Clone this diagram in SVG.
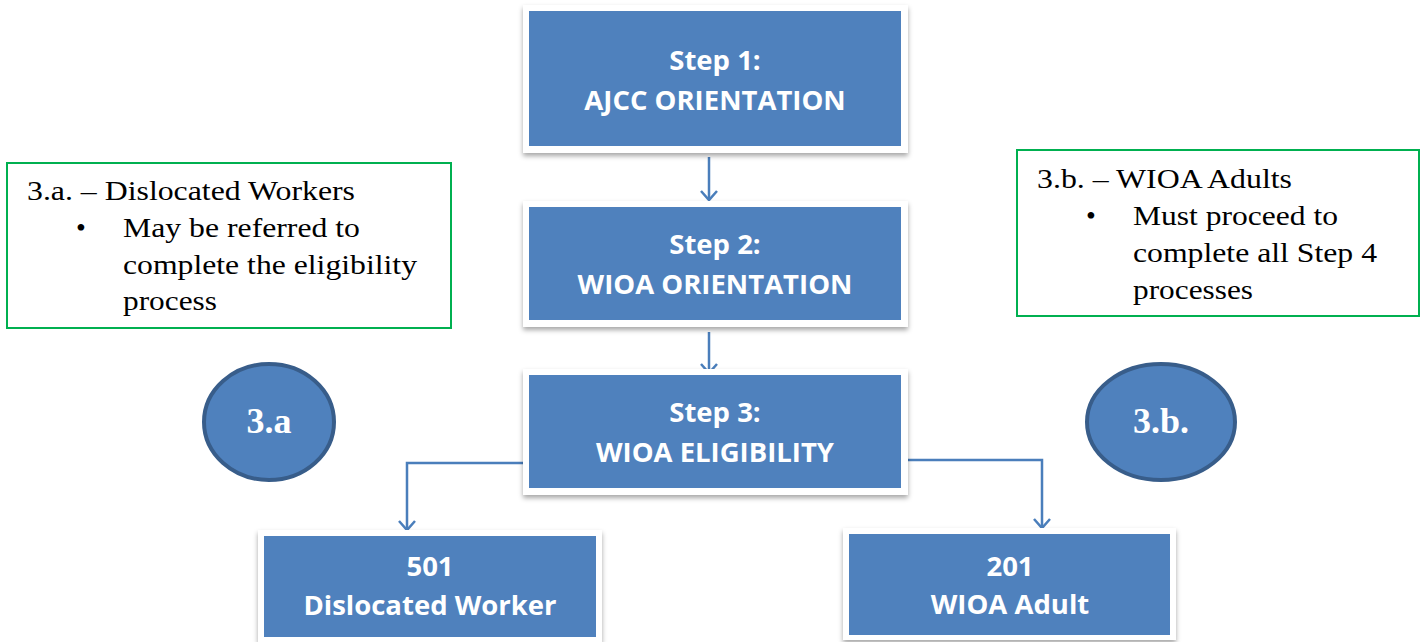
<svg xmlns="http://www.w3.org/2000/svg" width="1424" height="642" viewBox="0 0 1424 642">
<defs>
<filter id="sh" x="-10%" y="-10%" width="120%" height="130%">
<feDropShadow dx="0" dy="3" stdDeviation="2.5" flood-color="#000" flood-opacity="0.35"/>
</filter>
<marker id="arr" markerWidth="20" markerHeight="20" refX="10" refY="10" orient="auto" markerUnits="userSpaceOnUse">
<path d="M1,2 L10,10 L1,18" fill="none" stroke="#4A7EBB" stroke-width="2.5"/>
</marker>
<style>
.frame{fill:#fff;filter:url(#sh)}
.box{fill:#4F81BD}
.bt{font-family:"Open Sans","Liberation Sans",sans-serif;font-weight:bold;font-size:27.5px;fill:#fff;text-anchor:middle}
.note{fill:#fff;stroke:#00B050;stroke-width:2}
.nt{font-family:"Liberation Serif","Times New Roman",serif;font-size:28px;fill:#000}
.ell{fill:#4F81BD;stroke:#385D8A;stroke-width:4}
.et{font-family:"Liberation Serif","Times New Roman",serif;font-weight:bold;font-size:36px;fill:#fff;text-anchor:middle}
.conn{fill:none;stroke:#4A7EBB;stroke-width:2.5}
</style>
</defs>
<rect width="1424" height="642" fill="#fff"/>
<g id="connectors">
<path class="conn" d="M709,157 V200" marker-end="url(#arr)"/>
<path class="conn" d="M709,332 V373" marker-end="url(#arr)"/>
<path class="conn" d="M550,463 H407 V530" marker-end="url(#arr)"/>
<path class="conn" d="M853,460 H1042 V528" marker-end="url(#arr)"/>
</g>
<g id="step1">
<rect class="frame" x="523" y="5" width="385" height="148"/>
<rect class="box" x="529" y="11" width="372" height="135"/>
<text class="bt" x="715" y="70">Step 1:</text>
<text class="bt" x="715" y="110">AJCC ORIENTATION</text>
</g>
<g id="step2">
<rect class="frame" x="523" y="201" width="385" height="126"/>
<rect class="box" x="529" y="207" width="372" height="113"/>
<text class="bt" x="715" y="254">Step 2:</text>
<text class="bt" x="715" y="294">WIOA ORIENTATION</text>
</g>
<g id="step3">
<rect class="frame" x="523" y="369" width="385" height="126"/>
<rect class="box" x="529" y="375" width="372" height="113"/>
<text class="bt" x="715" y="422">Step 3:</text>
<text class="bt" x="715" y="462">WIOA ELIGIBILITY</text>
</g>
<g id="n501">
<rect class="frame" x="258" y="530" width="344" height="112"/>
<rect class="box" x="264" y="536" width="332" height="101"/>
<text class="bt" x="430" y="576">501</text>
<text class="bt" x="430" y="615">Dislocated Worker</text>
</g>
<g id="n201">
<rect class="frame" x="843" y="528" width="333" height="112"/>
<rect class="box" x="849" y="534" width="321" height="101"/>
<text class="bt" x="1010" y="576">201</text>
<text class="bt" x="1010" y="614">WIOA Adult</text>
</g>
<g id="e3a">
<ellipse class="ell" cx="269" cy="422" rx="65" ry="58"/>
<text class="et" x="269" y="433">3.a</text>
</g>
<g id="e3b">
<ellipse class="ell" cx="1161" cy="422" rx="74" ry="58"/>
<text class="et" x="1161" y="433">3.b.</text>
</g>
<g id="note3a">
<rect class="note" x="7" y="163" width="444" height="165"/>
<text class="nt" x="27" y="200" textLength="328" lengthAdjust="spacingAndGlyphs">3.a. – Dislocated Workers</text>
<text class="nt" x="76" y="237">•</text>
<text class="nt" x="123" y="237" textLength="237" lengthAdjust="spacingAndGlyphs">May be referred to</text>
<text class="nt" x="123" y="274" textLength="294" lengthAdjust="spacingAndGlyphs">complete the eligibility</text>
<text class="nt" x="123" y="310" textLength="94" lengthAdjust="spacingAndGlyphs">process</text>
</g>
<g id="note3b">
<rect class="note" x="1017" y="150" width="402" height="166"/>
<text class="nt" x="1037" y="188" textLength="255" lengthAdjust="spacingAndGlyphs">3.b. – WIOA Adults</text>
<text class="nt" x="1086" y="225">•</text>
<text class="nt" x="1133" y="225" textLength="205" lengthAdjust="spacingAndGlyphs">Must proceed to</text>
<text class="nt" x="1133" y="262" textLength="244" lengthAdjust="spacingAndGlyphs">complete all Step 4</text>
<text class="nt" x="1133" y="299" textLength="120" lengthAdjust="spacingAndGlyphs">processes</text>
</g>
</svg>
